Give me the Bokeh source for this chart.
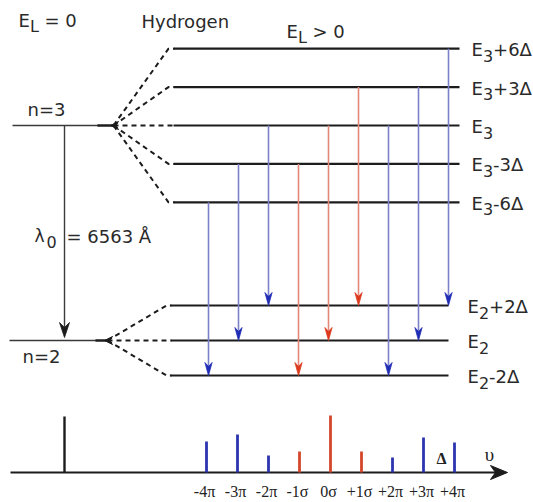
from bokeh.plotting import figure
from bokeh.models import Range1d
from bokeh.core.properties import value
from bokeh.embed import file_html
from bokeh.resources import INLINE

# ---------------- data ----------------
upper_levels = [6, 3, 0, -3, -6]                 # E3 + k*Delta
upper_suffix = ["+6Δ", "+3Δ", "", "-3Δ", "-6Δ"]
lower_levels = [2, 0, -2]                        # E2 + k*Delta
lower_suffix = ["+2Δ", "", "-2Δ"]
trans_from = [-6, -3, 0, -3, 0, 3, 0, 3, 6]
trans_to = [-2, 0, 2, -2, 0, 2, -2, 0, 2]
trans_pol = ["π", "π", "π", "σ", "σ", "σ", "π", "π", "π"]
spec_shift = [-4, -3, -2, -1, 0, 1, 2, 3, 4]
spec_pol = ["π", "π", "π", "σ", "σ", "σ", "π", "π", "π"]
spec_intensity = [31, 38, 17, 21, 57, 21, 15, 35, 30]
spec_labels = ["-4π", "-3π", "-2π", "-1σ", "0σ", "+1σ", "+2π", "+3π", "+4π"]
h_intensity = 56

# ---------------- layout ----------------
W, H = 533, 502
Y3, K3 = 125, 12.8
Y2, K2 = 340, 17.5
BASE = 472
XH = 64
TY = -6          # text vertical correction
FONT = "DejaVu Sans"
TXT = "#2a2a2a"
LINE = "#1c1c1c"
POL_HEAD = {"π": "#1f2cb4", "σ": "#dc3a1e"}
POL_LINE = {"π": "#7c80c8", "σ": "#e2887a"}
POL_BAR = {"π": "#2c34b0", "σ": "#d4472a"}


def y_up(k):
    return Y3 - K3 * k


def y_lo(k):
    return Y2 - K2 * k


def x_arrow(s):
    return 328 + 30 * s


def x_bar(s):
    return 330 + 31 * s


W_EM = {"E": 0.632, "L": 0.557, "λ": 0.592, "=": 0.838, ">": 0.838, "+": 0.838,
        "-": 0.361, " ": 0.318, "Δ": 0.684, "Å": 0.684}


def tw(s, size):
    return sum(W_EM.get(c, 0.636) for c in s) * size


p = figure(width=W, height=H, x_range=Range1d(0, W), y_range=Range1d(H, 0),
           output_backend="svg", toolbar_location=None,
           x_axis_type=None, y_axis_type=None, min_border=0,
           background_fill_color="white", border_fill_color="white")
p.outline_line_color = None
p.grid.visible = False


def txt(x, y, s, size, font=FONT, align="left", baseline="alphabetic", color=TXT, style="normal"):
    p.text(x=[x], y=[y + TY], text=[s], text_font=value(font), text_font_size=f"{size}px",
           text_align=align, text_baseline=baseline, text_color=color, text_font_style=style)


def sub_label(x, y, main, sub, rest, size=18, subsize=16, drop=6):
    txt(x, y, main, size)
    x2 = x + tw(main, size)
    txt(x2, y + drop, sub, subsize)
    x3 = x2 + tw(sub, subsize)
    if rest:
        lead = len(rest) - len(rest.lstrip(" "))
        txt(x3 + lead * W_EM[" "] * size, y, rest.lstrip(" "), size)


# ---------------- levels ----------------
up_y = [y_up(k) for k in upper_levels]
lo_y = [y_lo(k) for k in lower_levels]
p.segment(x0=[173] * len(up_y), y0=up_y, x1=[459] * len(up_y), y1=up_y,
          line_color=LINE, line_width=2.2)
p.segment(x0=[170] * len(lo_y), y0=lo_y, x1=[448] * len(lo_y), y1=lo_y,
          line_color=LINE, line_width=2.2)

# unperturbed hydrogen levels
p.segment(x0=[12, 9], y0=[Y3, Y2], x1=[98, 96], y1=[Y3, Y2], line_color="#3a3a3a", line_width=1.6)
p.segment(x0=[97, 95], y0=[Y3, Y2], x1=[112, 106], y1=[Y3, Y2], line_color=LINE, line_width=2.4)

# dashed splitting lines
p.multi_line(xs=[[113, 168, 174] for _ in up_y], ys=[[Y3, y, y] for y in up_y],
             line_color=LINE, line_width=2, line_dash="5 4")
p.multi_line(xs=[[107, 166, 171] for _ in lo_y], ys=[[Y2, y, y] for y in lo_y],
             line_color=LINE, line_width=2, line_dash="5 4")
# small convergence arrowheads
p.patches(xs=[[110, 118, 115, 118], [104, 112, 109, 112]],
          ys=[[Y3, Y3 - 4, Y3, Y3 + 4], [Y2, Y2 - 4, Y2, Y2 + 4]],
          fill_color=LINE, line_color=LINE, line_width=1)

# ---------------- transitions ----------------
for a, b, pol in zip(trans_from, trans_to, trans_pol):
    x = x_arrow(a - b)
    y0, y1 = y_up(a), y_lo(b)
    p.segment(x0=[x], y0=[y0], x1=[x], y1=[y1 - 8], line_color=POL_LINE[pol], line_width=1.6)
    p.patch(x=[x - 3.6, x, x + 3.6, x], y=[y1 - 13, y1, y1 - 13, y1 - 9],
            fill_color=POL_HEAD[pol], line_color=POL_HEAD[pol], line_width=0.8)

# unperturbed transition arrow
p.segment(x0=[XH], y0=[Y3], x1=[XH], y1=[Y2 - 12], line_color="#3a3a3a", line_width=1.4)
p.patch(x=[XH - 5, XH, XH + 5, XH], y=[Y2 - 18, Y2 - 3, Y2 - 18, Y2 - 13],
        fill_color=LINE, line_color=LINE, line_width=0.8)

# ---------------- spectrum ----------------
p.segment(x0=[10], y0=[BASE], x1=[496], y1=[BASE], line_color=LINE, line_width=2.2)
p.patch(x=[507, 490, 495, 490], y=[BASE, BASE - 7, BASE, BASE + 7],
        fill_color=LINE, line_color=LINE, line_width=1)
p.segment(x0=[XH], y0=[BASE], x1=[XH], y1=[BASE - h_intensity], line_color=LINE, line_width=2.4)
for s, pol, inten, lab in zip(spec_shift, spec_pol, spec_intensity, spec_labels):
    x = x_bar(s)
    p.segment(x0=[x], y0=[BASE], x1=[x], y1=[BASE - inten], line_color=POL_BAR[pol], line_width=2.8)
    txt(x - 2, 497, lab, 16, font="Liberation Serif", align="center", color="#222222")
txt(441, 464, "Δ", 16, font="Liberation Serif", align="center", color="#222222", style="bold")
txt(489, 460, "υ", 19, font="Liberation Serif", align="center", color="#222222")

# ---------------- texts ----------------
sub_label(18, 26, "E", "L", " = 0")
txt(141, 27, "Hydrogen", 18)
sub_label(286, 37, "E", "L", " > 0")
txt(27, 115, "n=3", 18)
txt(22, 362, "n=2", 18)
txt(34, 241, "λ", 17)
txt(46, 247, "0", 16)
txt(66, 242, "= 6563 Å", 18)

for k, suf in zip(upper_levels, upper_suffix):
    sub_label(471, y_up(k) + 7, "E", "3", suf)
for k, suf in zip(lower_levels, lower_suffix):
    sub_label(467, y_lo(k) + 7, "E", "2", suf)

open("out.html", "w").write(file_html(p, INLINE))
